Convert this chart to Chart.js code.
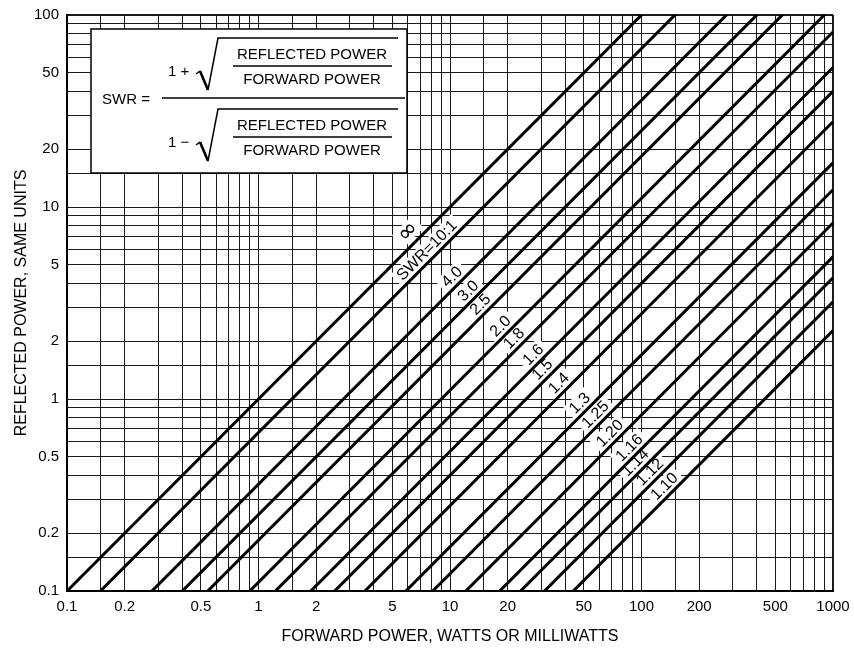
<!DOCTYPE html>
<html lang="en">
<head>
<meta charset="UTF-8">
<title>SWR chart</title>
<script src="https://cdn.jsdelivr.net/npm/chart.js"></script>
<style>
  body { margin: 0; background: #fff; }
  #wrap { width: 854px; height: 648px; }
</style>
</head>
<body>
<div id="wrap"><canvas id="swrChart"></canvas></div>
<script>
// values
const swrNames = ['∞', 'SWR=10:1', '4.0', '3.0', '2.5', '2.0', '1.8', '1.6', '1.5', '1.4', '1.3', '1.25', '1.20', '1.16', '1.14', '1.12', '1.10'];
const forwardEnds = [0.1, 1000];
const reflectedAtLow = [0.1, 0.0669, 0.036, 0.025, 0.0184, 0.0111, 0.00816, 0.00533, 0.004, 0.00278, 0.0017, 0.00123, 0.000826, 0.00055, 0.000428, 0.000321, 0.000227];
const reflectedAtHigh = [1000, 669, 360, 250, 184, 111, 81.6, 53.3, 40, 27.8, 17.0, 12.3, 8.26, 5.5, 4.28, 3.21, 2.27];
const labelAtForward = [6.7, 8.2, 11.1, 13.5, 15.6, 19.9, 23.4, 29.5, 32.9, 40.1, 51.6, 62.2, 74, 93.6, 100.6, 119.8, 142.6];
const xTickLabels = [0.1, 0.2, 0.5, 1, 2, 5, 10, 20, 50, 100, 200, 500, 1000];
const yTickLabels = [0.1, 0.2, 0.5, 1, 2, 5, 10, 20, 50, 100];
const gridSteps = [1, 1.5, 2, 3, 4, 5, 6, 7, 8, 9];

const FONT = '"Liberation Sans", Arial, sans-serif';

function gridValues(min, max) {
    const out = [];
    for (let e = Math.round(Math.log10(min)); e < Math.round(Math.log10(max)); e++) {
        gridSteps.forEach(s => out.push(+(s * Math.pow(10, e)).toPrecision(4)));
    }
    out.push(max);
    return out;
}

function labelFor(list) {
    return v => {
        const hit = list.find(l => Math.abs(l - v) < l * 1e-6);
        return hit === undefined ? '' : String(hit);
    };
}

const datasets = swrNames.map((name, i) => ({
    label: name,
    data: [
        { x: forwardEnds[0], y: reflectedAtLow[i] },
        { x: forwardEnds[1], y: reflectedAtHigh[i] }
    ],
    borderColor: '#000',
    borderWidth: 3,
    pointRadius: 0,
    clip: 0
}));

// white background
const paper = {
    id: 'paper',
    beforeDraw(chart) {
        const c = chart.ctx;
        c.save();
        c.fillStyle = '#fff';
        c.fillRect(0, 0, chart.width, chart.height);
        c.restore();
    }
};

// labels sitting just above each line
function eachLabel(chart, fn) {
    const c = chart.ctx;
    const xs = chart.scales.x, ys = chart.scales.y;
    swrNames.forEach((name, i) => {
        const x1 = xs.getPixelForValue(forwardEnds[0]), y1 = ys.getPixelForValue(reflectedAtLow[i]);
        const x2 = xs.getPixelForValue(forwardEnds[1]), y2 = ys.getPixelForValue(reflectedAtHigh[i]);
        const px = xs.getPixelForValue(labelAtForward[i]);
        const py = y1 + (y2 - y1) * (px - x1) / (x2 - x1);
        const isInf = name === '∞';
        c.save();
        c.translate(px, py);
        c.rotate(Math.atan2(y2 - y1, x2 - x1));
        c.font = isInf ? '24px "DejaVu Sans"' : '16px ' + FONT;
        fn(c, name, isInf ? 12 : 9);
        c.restore();
    });
}

const lineLabels = {
    id: 'lineLabels',
    beforeDatasetsDraw(chart) {
        // clear the grid behind the text
        eachLabel(chart, (c, name, off) => {
            const w = c.measureText(name).width;
            c.fillStyle = '#fff';
            c.fillRect(-w / 2 - 4, -off - 9, w + 8, 17);
        });
    },
    afterDatasetsDraw(chart) {
        eachLabel(chart, (c, name, off) => {
            c.fillStyle = '#000';
            c.textAlign = 'center';
            c.textBaseline = 'middle';
            c.fillText(name, 0, -off);
        });
    }
};

// the SWR formula box in the top left corner
const formulaBox = {
    id: 'formulaBox',
    afterDraw(chart) {
        const c = chart.ctx;
        const bx = chart.chartArea.left + 24, by = chart.chartArea.top + 14;
        c.save();
        c.fillStyle = '#fff';
        c.fillRect(bx, by, 316, 144);
        c.strokeStyle = '#000';
        c.lineWidth = 1.5;
        c.strokeRect(bx, by, 316, 144);

        c.fillStyle = '#000';
        c.font = '15px ' + FONT;
        c.textBaseline = 'middle';
        c.textAlign = 'left';
        c.fillText('SWR =', bx + 11, by + 71);

        // main fraction bar
        c.lineWidth = 1.5;
        c.beginPath();
        c.moveTo(bx + 71, by + 69);
        c.lineTo(bx + 314, by + 69);
        c.stroke();

        [[0, '1 +'], [71, '1 \u2212']].forEach(([dy, sign]) => {
            c.textAlign = 'left';
            c.fillText(sign, bx + 77, by + 43 + dy);
            // radical
            c.lineWidth = 1.5;
            c.beginPath();
            c.moveTo(bx + 105, by + 45 + dy);
            c.lineTo(bx + 109, by + 42 + dy);
            c.stroke();
            c.lineWidth = 2.6;
            c.beginPath();
            c.moveTo(bx + 109, by + 42 + dy);
            c.lineTo(bx + 117, by + 61 + dy);
            c.stroke();
            c.lineWidth = 1.5;
            c.beginPath();
            c.moveTo(bx + 117, by + 61 + dy);
            c.lineTo(bx + 127, by + 9 + dy);
            c.lineTo(bx + 307, by + 9 + dy);
            c.stroke();
            // inner fraction
            c.beginPath();
            c.moveTo(bx + 142, by + 37 + dy);
            c.lineTo(bx + 301, by + 37 + dy);
            c.stroke();
            c.textAlign = 'center';
            c.fillText('REFLECTED POWER', bx + 221, by + 26 + dy);
            c.fillText('FORWARD POWER', bx + 221, by + 51 + dy);
        });
        c.restore();
    }
};

function axis(min, max, labels, extra, pad) {
    return Object.assign({
        type: 'logarithmic',
        min: min,
        max: max,
        afterBuildTicks: s => { s.ticks = gridValues(min, max).map(v => ({ value: v })); },
        grid: {
            color: '#1a1a1a',
            lineWidth: ctx => (ctx.index === 0 || ctx.tick.value === max) ? 2 : 1,
            drawTicks: false
        },
        border: { color: '#000', width: 2 },
        ticks: {
            autoSkip: false,
            maxRotation: 0,
            padding: pad,
            color: '#000',
            font: { family: FONT, size: 15 },
            callback: labelFor(labels)
        }
    }, extra);
}

new Chart(document.getElementById('swrChart'), {
    type: 'line',
    data: { datasets: datasets },
    options: {
        responsive: true,
        maintainAspectRatio: false,
        animation: false,
        events: [],
        layout: { padding: { top: 15, right: 21, bottom: 0, left: 0 } },
        plugins: { legend: { display: false }, tooltip: { enabled: false } },
        scales: {
            x: axis(0.1, 1000, xTickLabels, {
                afterFit: s => { s.height = 57; s.paddingLeft = 0; s.paddingRight = 0; },
                title: {
                    display: true,
                    text: 'FORWARD POWER, WATTS OR MILLIWATTS',
                    color: '#000',
                    font: { family: FONT, size: 16 },
                    padding: { top: 0, bottom: 1.5 }
                }
            }, 7),
            y: axis(0.1, 100, yTickLabels, {
                afterFit: s => { s.width = 67; s.paddingTop = 0; s.paddingBottom = 0; },
                title: {
                    display: true,
                    text: 'REFLECTED POWER, SAME UNITS',
                    color: '#000',
                    font: { family: FONT, size: 16 },
                    padding: { top: 11.5, bottom: 0 }
                }
            }, 8)
        }
    },
    plugins: [paper, lineLabels, formulaBox]
});
</script>
</body>
</html>
